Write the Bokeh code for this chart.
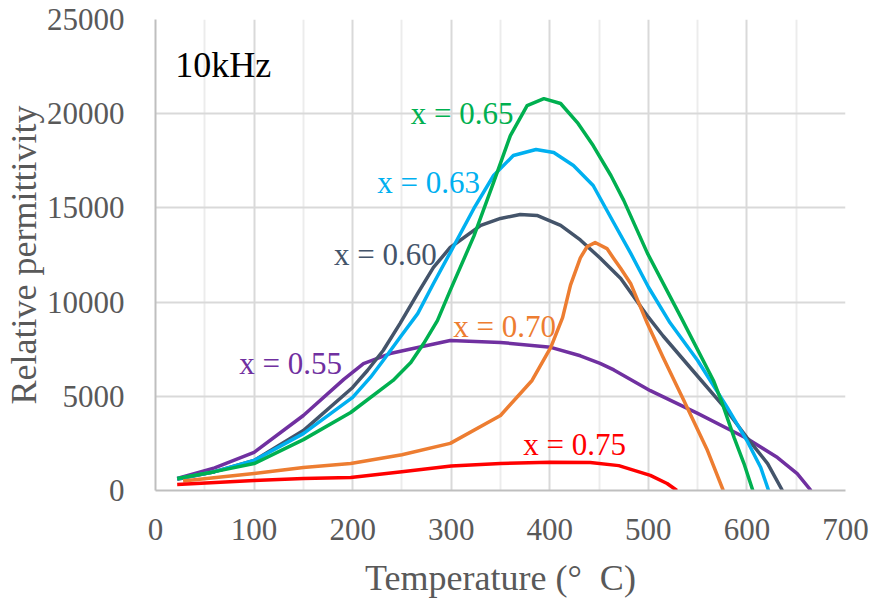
from bokeh.plotting import figure
from bokeh.models import FixedTicker, Label, Range1d
from bokeh.embed import file_html
from bokeh.resources import INLINE

# ---- data (temperature in deg C, relative permittivity) ----
t_055 = [22, 60, 100, 150, 191, 211, 238, 266, 299, 350, 401, 431, 451, 465, 502, 550, 600, 631, 651, 665]
e_055 = [640, 1200, 2020, 3980, 5900, 6740, 7270, 7590, 7960, 7860, 7600, 7150, 6750, 6400, 5300, 4090, 2760, 1750, 900, 0]

t_060 = [22, 60, 100, 150, 200, 215, 231, 248, 266, 282, 299, 330, 350, 370, 387, 411, 431, 451, 472, 500, 515, 545, 575, 600, 621, 636]
e_060 = [600, 1000, 1590, 3180, 5470, 6370, 7430, 8860, 10460, 11840, 12900, 14070, 14440, 14650, 14600, 14070, 13300, 12340, 11250, 9200, 8200, 6370, 4550, 2810, 1430, 0]

t_063 = [22, 60, 100, 150, 200, 218, 231, 248, 266, 282, 299, 323, 343, 363, 386, 404, 424, 444, 465, 482, 500, 522, 550, 580, 600, 614, 622]
e_063 = [620, 1000, 1590, 3020, 4940, 6000, 6900, 8120, 9390, 10990, 12630, 14970, 16720, 17780, 18100, 17940, 17250, 16190, 14200, 12600, 10800, 8900, 6900, 4410, 2650, 1220, 0]

t_065 = [22, 60, 100, 150, 198, 241, 259, 272, 286, 299, 323, 343, 360, 377, 394, 411, 428, 444, 462, 475, 499, 525, 533, 566, 575, 587, 597, 606]
e_065 = [640, 1000, 1430, 2700, 4140, 5840, 6790, 7800, 9020, 10620, 13500, 16350, 18840, 20430, 20800, 20540, 19530, 18310, 16720, 15400, 12600, 10000, 9200, 5840, 4620, 2810, 1430, 0]

t_070 = [28, 100, 150, 198, 250, 299, 350, 382, 401, 413, 421, 431, 438, 446, 458, 465, 472, 482, 499, 515, 536, 560, 576]
e_070 = [500, 900, 1220, 1430, 1900, 2500, 3980, 5840, 7600, 9180, 10900, 12350, 12950, 13160, 12840, 12300, 11780, 10990, 8860, 7060, 4780, 2120, 0]

t_075 = [22, 100, 150, 198, 250, 300, 350, 400, 441, 470, 502, 519, 529]
e_075 = [320, 530, 640, 690, 1000, 1300, 1430, 1500, 1490, 1320, 800, 370, 0]

labels = ["x = 0.55", "x = 0.60", "x = 0.63", "x = 0.65", "x = 0.70", "x = 0.75"]
colors = ["#7030a0", "#44546a", "#00b0f0", "#00b050", "#ed7d31", "#ff0000"]
label_x = [85, 181, 225, 259, 302, 373]
label_y = [6740, 12530, 16350, 20010, 8700, 2440]
temps = [t_055, t_060, t_063, t_065, t_070, t_075]
perms = [e_055, e_060, e_063, e_065, e_070, e_075]

x_ticks = [0, 100, 200, 300, 400, 500, 600, 700]
x_minor = [50, 150, 250, 350, 450, 550, 650]
y_ticks = [0, 5000, 10000, 15000, 20000, 25000]

FONT = "Liberation Serif"
GREY = "#595959"

p = figure(width=870, height=600, output_backend="svg", toolbar_location=None,
           x_range=Range1d(0, 700), y_range=Range1d(0, 25000),
           min_border_left=155, min_border_right=25, min_border_top=19, min_border_bottom=110)
p.outline_line_color = None
p.background_fill_color = "white"

p.xaxis.ticker = FixedTicker(ticks=x_ticks, minor_ticks=x_minor)
p.yaxis.ticker = FixedTicker(ticks=y_ticks)

for ax in (p.xaxis[0], p.yaxis[0]):
    ax.axis_line_color = "#bfbfbf"
    ax.axis_line_width = 2
    ax.major_tick_line_color = None
    ax.minor_tick_line_color = None
    ax.major_label_text_font = FONT
    ax.major_label_text_font_size = "31px"
    ax.major_label_text_color = GREY
    ax.axis_label_text_font = FONT
    ax.axis_label_text_font_size = "36px"
    ax.axis_label_text_color = GREY
    ax.axis_label_text_font_style = "normal"

p.xaxis.axis_label = "Temperature (°\u00a0\u00a0C)"
p.yaxis.axis_label = "Relative permittivity"
p.xaxis.major_label_standoff = 22
p.yaxis.major_label_standoff = 25
p.xaxis.axis_label_standoff = 15
p.yaxis.axis_label_standoff = 0

p.xgrid.grid_line_color = "#d9d9d9"
p.xgrid.grid_line_width = 2
p.xgrid.minor_grid_line_color = "#ececec"
p.xgrid.minor_grid_line_width = 2
p.ygrid.grid_line_color = "#d9d9d9"
p.ygrid.grid_line_width = 2

for name, t, e, col, lx, ly in zip(labels, temps, perms, colors, label_x, label_y):
    p.line(t, e, line_color=col, line_width=3.5, line_join="round")
    p.add_layout(Label(x=lx, y=ly, text=name, text_font=FONT, text_font_size="31px",
                       text_color=col, text_align="left", text_baseline="alphabetic"))

p.add_layout(Label(x=20, y=22610, text="10kHz", text_font=FONT, text_font_size="36px",
                   text_color="black", text_align="left", text_baseline="alphabetic"))

open("out.html", "w").write(file_html(p, INLINE))
